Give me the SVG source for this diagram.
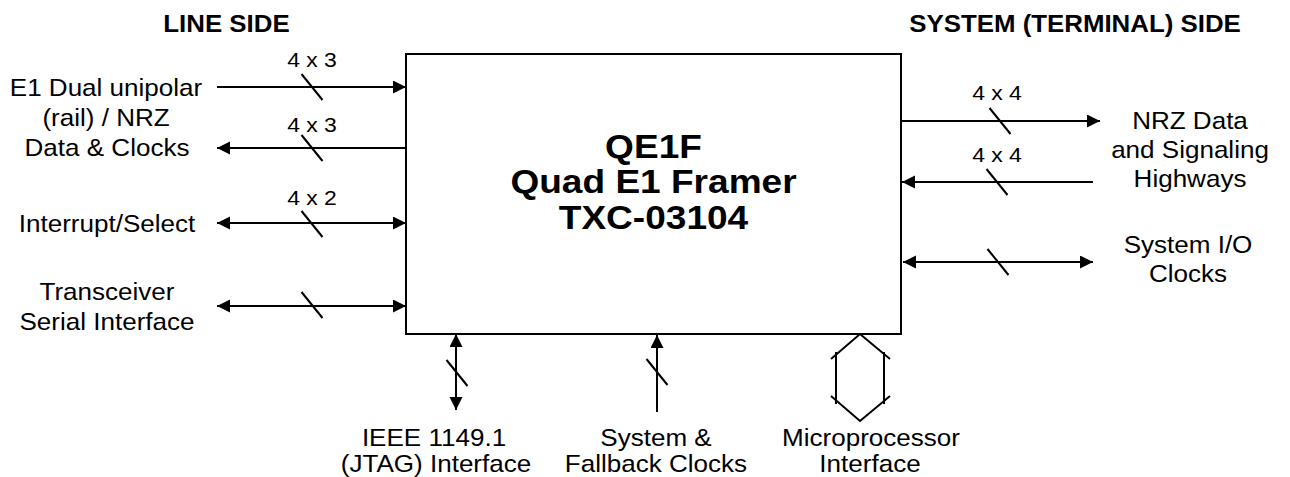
<svg xmlns="http://www.w3.org/2000/svg" width="1290" height="477" viewBox="0 0 1290 477">
<style>
text{font-family:"Liberation Sans",Arial,sans-serif;fill:#000;text-anchor:middle}
.b{font-size:24px}
.s{font-size:20.5px}
.h{font-size:23.5px;font-weight:bold}
.t{font-size:34px;font-weight:bold}
.ln{stroke:#000;stroke-width:2;fill:none}
.sl{stroke:#000;stroke-width:2}
</style>
<defs>
<marker id="ah" markerUnits="userSpaceOnUse" markerWidth="14" markerHeight="14" refX="13" refY="6.5" orient="auto-start-reverse">
<path d="M0,0 L13,6.5 L0,13 z" fill="#000"/>
</marker>
</defs>
<rect width="1290" height="477" fill="#fff"/>
<g id="headers">
<text class="h" transform="translate(226.5,32) scale(1.1,1)">LINE SIDE</text>
<text class="h" transform="translate(1075,32) scale(1.1,1)">SYSTEM (TERMINAL) SIDE</text>
</g>
<g id="qe1f">
<rect x="406" y="54" width="495" height="280" fill="#fff" stroke="#000" stroke-width="2"/>
<text class="t" transform="translate(653.5,157.5) scale(1.09,1)">QE1F</text>
<text class="t" transform="translate(653.5,193) scale(1.09,1)">Quad E1 Framer</text>
<text class="t" transform="translate(653.5,228.5) scale(1.09,1)">TXC-03104</text>
</g>
<g id="line-data">
<text class="b" transform="translate(106,95.5) scale(1.085,1)">E1 Dual unipolar</text>
<text class="b" transform="translate(106,125.5) scale(1.085,1)">(rail) / NRZ</text>
<text class="b" transform="translate(107,156) scale(1.085,1)">Data &amp; Clocks</text>
</g>
<g id="interrupt">
<text class="b" transform="translate(107,231.5) scale(1.085,1)">Interrupt/Select</text>
</g>
<g id="transceiver">
<text class="b" transform="translate(107,299.5) scale(1.085,1)">Transceiver</text>
<text class="b" transform="translate(107,329.5) scale(1.085,1)">Serial Interface</text>
</g>
<g id="nrz-highways">
<text class="b" transform="translate(1190,129) scale(1.085,1)">NRZ Data</text>
<text class="b" transform="translate(1190,158) scale(1.085,1)">and Signaling</text>
<text class="b" transform="translate(1190,187) scale(1.085,1)">Highways</text>
</g>
<g id="sys-io">
<text class="b" transform="translate(1188,253) scale(1.085,1)">System I/O</text>
<text class="b" transform="translate(1188,282) scale(1.085,1)">Clocks</text>
</g>
<g id="jtag">
<text class="b" transform="translate(434,446) scale(1.085,1)">IEEE 1149.1</text>
<text class="b" transform="translate(436,472) scale(1.085,1)">(JTAG) Interface</text>
</g>
<g id="sys-clocks">
<text class="b" transform="translate(656,446) scale(1.085,1)">System &amp;</text>
<text class="b" transform="translate(656,472) scale(1.085,1)">Fallback Clocks</text>
</g>
<g id="micro">
<text class="b" transform="translate(871,446) scale(1.085,1)">Microprocessor</text>
<text class="b" transform="translate(870,472) scale(1.085,1)">Interface</text>
</g>
<g id="connectors">
<line class="ln" x1="217" y1="87" x2="406" y2="87" marker-end="url(#ah)"/>
<line class="ln" x1="406" y1="148" x2="217" y2="148" marker-end="url(#ah)"/>
<line class="ln" x1="217" y1="223" x2="406" y2="223" marker-start="url(#ah)" marker-end="url(#ah)"/>
<line class="ln" x1="217" y1="306" x2="406" y2="306" marker-start="url(#ah)" marker-end="url(#ah)"/>
<line class="ln" x1="901" y1="121" x2="1100" y2="121" marker-end="url(#ah)"/>
<line class="ln" x1="1093" y1="182" x2="902" y2="182" marker-end="url(#ah)"/>
<line class="ln" x1="903" y1="262" x2="1093" y2="262" marker-start="url(#ah)" marker-end="url(#ah)"/>
<line class="ln" x1="456" y1="334" x2="456" y2="410" marker-start="url(#ah)" marker-end="url(#ah)"/>
<line class="ln" x1="657" y1="412" x2="657" y2="335" marker-end="url(#ah)"/>
<polyline class="ln" points="831,359 860,334 890,359"/>
<line class="ln" x1="836" y1="352" x2="836" y2="404"/>
<line class="ln" x1="884" y1="352" x2="884" y2="404"/>
<polyline class="ln" points="831,396 860,421 890,396"/>
<line class="sl" x1="301.5" y1="74" x2="322.5" y2="100"/>
<line class="sl" x1="301.5" y1="135" x2="322.5" y2="161"/>
<line class="sl" x1="301.5" y1="211" x2="322.5" y2="237"/>
<line class="sl" x1="301.5" y1="292" x2="322.5" y2="318"/>
<line class="sl" x1="989.5" y1="108" x2="1010.5" y2="134"/>
<line class="sl" x1="986.5" y1="169" x2="1007.5" y2="195"/>
<line class="sl" x1="987.5" y1="249" x2="1008.5" y2="275"/>
<line class="sl" x1="446.5" y1="360" x2="467.5" y2="386"/>
<line class="sl" x1="646.5" y1="359" x2="667.5" y2="385"/>
<text class="s" transform="translate(312,67) scale(1.12,1)">4 x 3</text>
<text class="s" transform="translate(312,132) scale(1.12,1)">4 x 3</text>
<text class="s" transform="translate(312,205) scale(1.12,1)">4 x 2</text>
<text class="s" transform="translate(997,100) scale(1.12,1)">4 x 4</text>
<text class="s" transform="translate(997,162) scale(1.12,1)">4 x 4</text>
</g>
</svg>
